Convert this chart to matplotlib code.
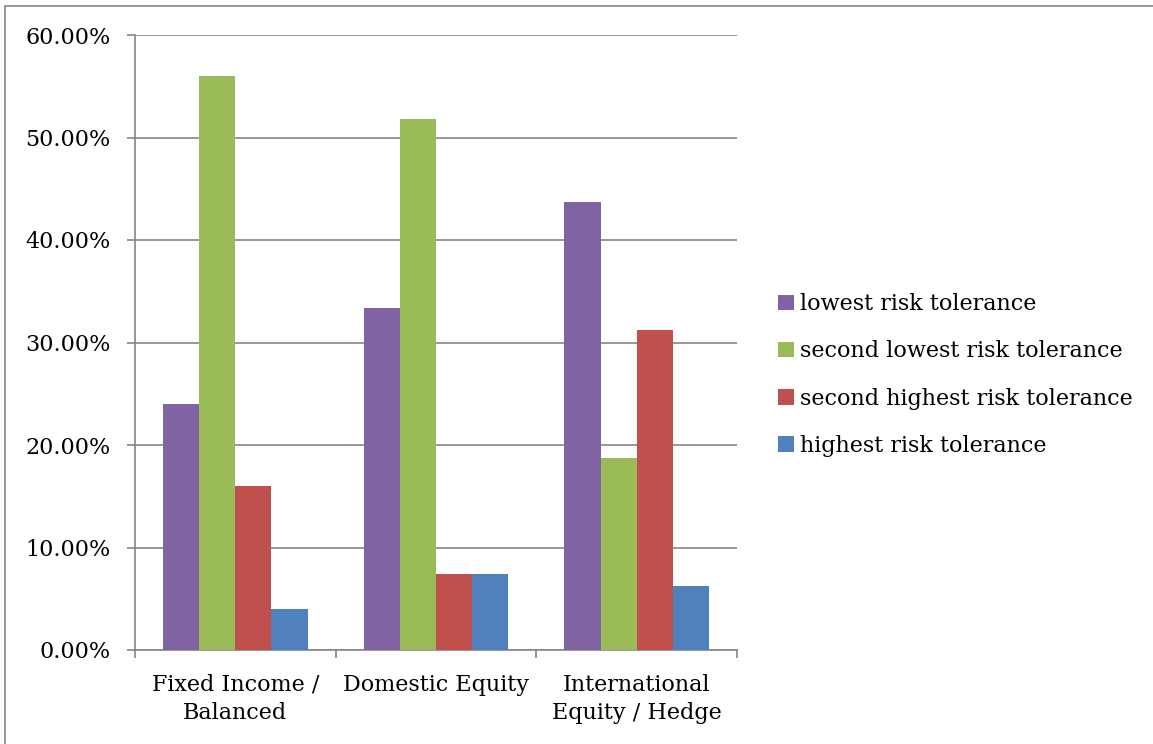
import numpy as np
import matplotlib.pyplot as plt
from matplotlib.patches import Rectangle
from matplotlib.ticker import PercentFormatter

categories = ['Fixed Income /\nBalanced', 'Domestic Equity', 'International\nEquity / Hedge']
series = ['lowest risk tolerance', 'second lowest risk tolerance',
          'second highest risk tolerance', 'highest risk tolerance']
lowest = [24.0, 33.33, 43.75]
second_lowest = [56.0, 51.85, 18.75]
second_highest = [16.0, 7.41, 31.25]
highest = [4.0, 7.41, 6.25]
colors = ['#8064A2', '#9BBB59', '#C0504D', '#4F81BD']

plt.rcParams['font.family'] = ['DejaVu Serif']

fig = plt.figure(figsize=(11.53, 7.44), dpi=100)
ax = fig.add_axes([135 / 1153, 1 - 650 / 744, 602 / 1153, 615 / 744])

x = np.arange(len(categories))
w = 0.18
for i, (name, vals) in enumerate(zip(series, [lowest, second_lowest, second_highest, highest])):
    ax.bar(x + (i - 1.5) * w, vals, w, color=colors[i], label=name, zorder=3)

ax.set_xlim(-0.5, 2.5)
ax.set_ylim(0, 60)
ax.set_yticks(np.arange(0, 61, 10))
ax.yaxis.set_major_formatter(PercentFormatter(decimals=2))
ax.grid(axis='y', color='#868686', linewidth=1.2, zorder=0)
ax.set_xticks([-0.5, 0.5, 1.5, 2.5])
ax.set_xticklabels([])
ax.set_xticks(x, minor=True)
ax.set_xticklabels(categories, minor=True, fontsize=16, linespacing=1.4)
ax.tick_params(axis='x', which='minor', length=0, pad=17)
ax.tick_params(axis='x', which='major', length=5.8, color='#868686', width=1.2)
ax.tick_params(axis='y', length=5.8, color='#868686', width=1.2, labelsize=16, pad=12)
for s in ['top', 'right']:
    ax.spines[s].set_visible(False)
for s in ['left', 'bottom']:
    ax.spines[s].set_color('#868686')
    ax.spines[s].set_linewidth(1.2)

fig.legend(loc='center left', bbox_to_anchor=(758 / 1153, 1 - 375 / 744), frameon=False,
           fontsize=16, handlelength=0.7, handleheight=0.7, handletextpad=0.3,
           labelspacing=1.13)

fig.patches.append(Rectangle((5 / 1153, -0.01), 1.1, 1 - 6 / 744 + 0.01, transform=fig.transFigure,
                             fill=False, edgecolor='#868686', linewidth=1.2))

fig.savefig('out.png')
